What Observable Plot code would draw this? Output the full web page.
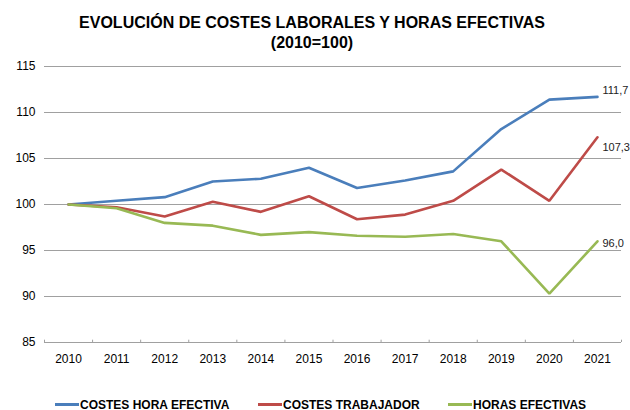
<!DOCTYPE html>
<html>
<head>
<meta charset="utf-8">
<script src="https://cdn.jsdelivr.net/npm/d3@7"></script>
<script src="https://cdn.jsdelivr.net/npm/@observablehq/plot@0.6"></script>
<style>
  html, body { margin: 0; padding: 0; background: #fff; }
  body { width: 630px; height: 410px; overflow: hidden; position: relative; font-family: "Liberation Sans", Arial, sans-serif; }
  #title { width: 624px; padding-top: 13px; height: 40px; text-align: center; font-weight: bold; font-size: 16px; line-height: 20px; color: #000; }
  #chart svg { display: block; overflow: visible; }
  #legend { position: relative; height: 33px; }
  .item { position: absolute; top: 20px; height: 15px; display: flex; align-items: center; font-weight: bold; font-size: 12px; color: #000; white-space: nowrap; }
  .sw { width: 24px; height: 3px; margin-right: 1px; }
</style>
</head>
<body>
<div id="title">EVOLUCIÓN DE COSTES LABORALES Y HORAS EFECTIVAS<br>(2010=100)</div>
<div id="chart"></div>
<div id="legend"></div>
<script>
const years = [2010, 2011, 2012, 2013, 2014, 2015, 2016, 2017, 2018, 2019, 2020, 2021];
const seriesNames = ["COSTES HORA EFECTIVA", "COSTES TRABAJADOR", "HORAS EFECTIVAS"];
const costesHora = [100, 100.4, 100.8, 102.5, 102.8, 104.0, 101.8, 102.6, 103.6, 108.2, 111.4, 111.7];
const costesTrabajador = [100, 99.7, 98.7, 100.3, 99.2, 100.9, 98.4, 98.9, 100.4, 103.8, 100.4, 107.3];
const horasEfectivas = [100, 99.6, 98.0, 97.7, 96.7, 97.0, 96.6, 96.5, 96.8, 96.0, 90.3, 96.0];
const yTicks = [85, 90, 95, 100, 105, 110, 115];
const colors = ["#4a7ebb", "#be4b48", "#98b954"];

const seriesValues = [costesHora, costesTrabajador, horasEfectivas];
const data = [];
seriesNames.forEach((name, i) => {
  years.forEach((yr, j) => data.push({serie: name, year: yr, value: seriesValues[i][j]}));
});
const bounds = [years[0] - 0.5, ...years.map(y => y + 0.5)];
const fmt = v => v.toFixed(1).replace(".", ",");
const last = i => [{year: years[years.length - 1], value: seriesValues[i][years.length - 1]}];
const labelDy = [-6, 10, 2.5];

const plot = Plot.plot({
  width: 630,
  height: 324,
  marginLeft: 44,
  marginRight: 9,
  marginTop: 13,
  marginBottom: 35,
  style: {fontFamily: "'Liberation Sans', Arial, sans-serif", fontSize: "12px", color: "#000", background: "transparent"},
  x: {domain: [bounds[0], bounds[bounds.length - 1]]},
  y: {domain: [85, 115]},
  color: {domain: seriesNames, range: colors},
  marks: [
    Plot.ruleY(yTicks, {stroke: "#a0a0a0", strokeWidth: 1}),
    Plot.ruleX(bounds, {y1: 85, y2: 85.25, stroke: "#a0a0a0"}),
    Plot.axisY({ticks: yTicks, tickSize: 0, tickPadding: 9, fontSize: 12, fill: "#000", label: null}),
    Plot.axisX({ticks: years, tickSize: 0, tickPadding: 12, tickFormat: d => String(d), fontSize: 12, fill: "#000", label: null}),
    Plot.lineY(data, {x: "year", y: "value", z: "serie", stroke: "serie", strokeWidth: 2.6, strokeLinejoin: "miter"}),
    ...[0, 1, 2].map(i => Plot.text(last(i), {x: "year", y: "value", text: d => fmt(d.value), textAnchor: "start", dx: 5, dy: labelDy[i], fontSize: 11, fill: "#222"}))
  ]
});
document.getElementById("chart").appendChild(plot);

const legendLeft = [55, 258, 448];
const legend = document.getElementById("legend");
seriesNames.forEach((name, i) => {
  const it = document.createElement("div");
  it.className = "item";
  it.style.left = legendLeft[i] + "px";
  const sw = document.createElement("span");
  sw.className = "sw";
  sw.style.background = colors[i];
  const tx = document.createElement("span");
  tx.textContent = name;
  it.appendChild(sw);
  it.appendChild(tx);
  legend.appendChild(it);
});
</script>
</body>
</html>
